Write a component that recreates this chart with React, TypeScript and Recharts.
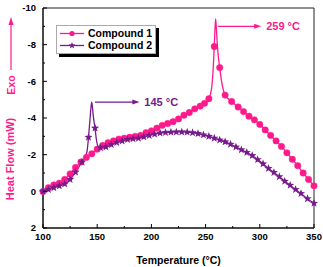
import { LineChart, Line, XAxis, YAxis, ReferenceLine, ReferenceArea } from "recharts"

const PINK = "#ff1a8c"
const PURPLE = "#761a8c"
const FONT = "'Liberation Sans', Arial, sans-serif"

// Compound 1 (pink, circles) – markers sit on the integer temperatures
const temps1 = [
  100, 105, 110, 115, 120, 125, 130, 135, 140, 145, 150, 155, 160, 165, 170, 175, 180, 185, 190, 195,
  200, 205, 210, 215, 220, 225, 230, 235, 240, 245, 249, 253, 255.5, 256.8, 258, 258.8, 259.3, 260.1,
  261.2, 263, 265.5, 268, 274, 280, 285, 290, 295, 300, 305, 310, 315, 320, 325, 330, 335, 340, 345, 350,
]
const flow1 = [
  0, -0.2, -0.35, -0.45, -0.65, -0.95, -1.3, -1.6, -1.85, -2.05, -2.3, -2.5, -2.65, -2.75, -2.85, -2.9,
  -2.95, -3.0, -3.05, -3.2, -3.3, -3.45, -3.6, -3.7, -3.8, -3.95, -4.15, -4.3, -4.5, -4.65, -4.8, -5.05,
  -5.6, -6.5, -7.9, -9.0, -9.4, -8.7, -7.7, -6.75, -5.75, -5.25, -4.9, -4.6, -4.35, -4.1, -3.9, -3.65,
  -3.35, -3.05, -2.75, -2.45, -2.1, -1.75, -1.4, -1.0, -0.65, -0.3,
]

// Compound 2 (purple, stars)
const temps2 = [
  100, 105, 110, 115, 120, 125, 130, 136, 139.4, 140.8, 142, 143.3, 144.3, 144.9, 145.6, 146.4, 147.2,
  148, 149.3, 150.5, 153, 158, 163, 168, 173, 178, 183, 188, 193, 198, 203, 208, 213, 218, 223, 228, 233,
  238, 243, 248, 253, 258, 263, 268, 273, 278, 283, 288, 293, 298, 303, 308, 313, 318, 323, 328, 333,
  338, 344, 350,
]
const flow2 = [
  0, -0.1, -0.2, -0.3, -0.4, -0.65, -1.05, -1.6, -1.9, -2.25, -2.95, -3.9, -4.6, -4.87, -4.6, -4.1,
  -3.75, -3.45, -2.8, -2.5, -2.38, -2.42, -2.55, -2.66, -2.75, -2.83, -2.87, -2.9, -2.97, -3.05, -3.12,
  -3.18, -3.21, -3.23, -3.24, -3.24, -3.23, -3.2, -3.15, -3.08, -3.0, -2.9, -2.8, -2.7, -2.57, -2.42,
  -2.27, -2.12, -1.95, -1.73, -1.5, -1.25, -1.03, -0.8, -0.55, -0.33, -0.1, 0.12, 0.4, 0.65,
]

const xTicks = [100, 125, 150, 175, 200, 225, 250, 275, 300, 325, 350]
const yTicks = [-10, -9, -8, -7, -6, -5, -4, -3, -2, -1, 0, 1, 2]

const peak1 = { t: 259.3, v: -9.4, label: "259 °C" }
const peak2 = { t: 144.9, v: -4.87, label: "145 °C" }

const data1 = temps1.map((t, i) => ({ t, v: flow1[i] }))
const data2 = temps2.map((t, i) => ({ t, v: flow2[i] }))

function CircleDot(props: any) {
  const { cx, cy, payload } = props
  if (!Number.isInteger(payload.t)) return <g />
  return <circle cx={cx} cy={cy} r={3.2} fill={PINK} stroke={PINK} strokeWidth={0.5} />
}

function starPoints(cx: number, cy: number, r: number) {
  const pts: string[] = []
  for (let i = 0; i < 10; i++) {
    const rad = i % 2 === 0 ? r : r * 0.42
    const a = -Math.PI / 2 + (i * Math.PI) / 5
    pts.push(`${cx + rad * Math.cos(a)},${cy + rad * Math.sin(a)}`)
  }
  return pts.join(" ")
}

function StarDot(props: any) {
  const { cx, cy, payload } = props
  if (!Number.isInteger(payload.t)) return <g />
  return <polygon points={starPoints(cx, cy, 4.3)} fill={PURPLE} />
}

function YTick(props: any) {
  const { x, y, payload } = props
  const major = payload.value % 2 === 0
  const ax = x + 7
  return (
    <g>
      <line x1={ax} x2={ax + (major ? 4 : 2)} y1={y} y2={y} stroke="#000" />
      {major && (
        <text x={x} y={y} dy="0.35em" textAnchor="end" fontSize={9.5} fontWeight="bold" fontFamily={FONT} fill="#000">
          {payload.value}
        </text>
      )}
    </g>
  )
}

function XTick(props: any) {
  const { x, y, payload } = props
  const major = payload.value % 50 === 0
  const ay = y - 5
  return (
    <g>
      <line x1={x} x2={x} y1={ay} y2={ay - (major ? 4 : 2)} stroke="#000" />
      {major && (
        <text x={x} y={y} dy="0.71em" textAnchor="middle" fontSize={9.5} fontWeight="bold" fontFamily={FONT} fill="#000">
          {payload.value}
        </text>
      )}
    </g>
  )
}

function arrowShape(color: string, label: string) {
  return (props: any) => {
    const { x1, y1, x2, y2 } = props
    return (
      <g>
        <line x1={x1} y1={y1} x2={x2 - 5} y2={y2} stroke={color} strokeWidth={1.2} />
        <polygon points={`${x2},${y2} ${x2 - 7},${y2 - 2.5} ${x2 - 7},${y2 + 2.5}`} fill={color} />
        <text x={x2 + 5} y={y2} dy="0.35em" fontSize={11} fontWeight="bold" fontFamily={FONT} fill={color}>
          {label}
        </text>
      </g>
    )
  }
}

function LegendBox() {
  const rows = [
    { name: "Compound 1", color: PINK, star: false },
    { name: "Compound 2", color: PURPLE, star: true },
  ]
  return (
    <div
      style={{
        position: "absolute",
        left: 56,
        top: 25,
        width: 98,
        height: 27,
        border: "1px solid #aaa",
        boxShadow: "3px 3px 0 #000",
        background: "#fff",
      }}
    >
      <svg width={98} height={27} style={{ display: "block" }}>
        {rows.map((r, i) => {
          const cy = 7.5 + i * 12
          return (
            <g key={r.name}>
              <line x1={3} x2={27} y1={cy} y2={cy} stroke={r.color} strokeWidth={1.3} />
              {r.star ? (
                <polygon points={starPoints(15, cy, 3.6)} fill={r.color} />
              ) : (
                <circle cx={15} cy={cy} r={2.6} fill={r.color} />
              )}
              <text x={31} y={cy} dy="0.35em" fontSize={10.5} fontWeight="bold" fontFamily={FONT} fill="#000">
                {r.name}
              </text>
            </g>
          )
        })}
      </svg>
    </div>
  )
}

export default function App() {
  return (
    <div style={{ position: "absolute", left: 0, top: 0, width: 323, height: 267, background: "#fff" }}>
      <LineChart width={323} height={267} data={data1} margin={{ top: 8, right: 9, left: 0, bottom: 0 }}>
        <XAxis
          dataKey="t"
          type="number"
          domain={[100, 350]}
          ticks={xTicks}
          interval={0}
          tickSize={0}
          tickMargin={5}
          tick={<XTick />}
          height={39}
          stroke="#000"
          label={{
            value: "Temperature (°C)",
            position: "insideBottom",
            offset: 3,
            style: { fontSize: 10.5, fontWeight: "bold", fontFamily: FONT, fill: "#000" },
          }}
        />
        <YAxis
          type="number"
          domain={[-10, 2]}
          reversed
          ticks={yTicks}
          interval={0}
          tickSize={0}
          tickMargin={7}
          tick={<YTick />}
          width={43}
          stroke="#000"
        />
        <ReferenceArea x1={100} x2={350} y1={-10} y2={2} fill="none" stroke="#222" strokeWidth={1} />
        <Line
          data={data1}
          dataKey="v"
          type="monotone"
          stroke={PINK}
          strokeWidth={1.3}
          dot={<CircleDot />}
          activeDot={false}
          isAnimationActive={false}
        />
        <Line
          data={data2}
          dataKey="v"
          type="monotone"
          stroke={PURPLE}
          strokeWidth={1.3}
          dot={<StarDot />}
          activeDot={false}
          isAnimationActive={false}
        />
        <ReferenceLine
          segment={[
            { x: peak1.t + 2, y: peak1.v + 0.4 },
            { x: peak1.t + 42, y: peak1.v + 0.4 },
          ]}
          shape={arrowShape(PINK, peak1.label)}
        />
        <ReferenceLine
          segment={[
            { x: peak2.t + 3, y: peak2.v },
            { x: peak2.t + 44, y: peak2.v },
          ]}
          shape={arrowShape(PURPLE, peak2.label)}
        />
      </LineChart>
      <svg width={24} height={267} style={{ position: "absolute", left: 0, top: 0, pointerEvents: "none" }}>
        <line x1={11} x2={11} y1={70} y2={24} stroke={PINK} strokeWidth={1.2} />
        <polygon points="11,17 8.5,25 13.5,25" fill={PINK} />
        <text
          x={11}
          y={85}
          transform="rotate(-90 11 85)"
          textAnchor="middle"
          dy="0.35em"
          fontSize={10.5}
          fontWeight="bold"
          fontFamily={FONT}
          fill={PINK}
        >
          Exo
        </text>
        <text
          x={10}
          y={159}
          transform="rotate(-90 10 159)"
          textAnchor="middle"
          dy="0.35em"
          fontSize={11}
          fontWeight="bold"
          fontFamily={FONT}
          fill={PINK}
        >
          Heat Flow (mW)
        </text>
      </svg>
      <LegendBox />
    </div>
  )
}
